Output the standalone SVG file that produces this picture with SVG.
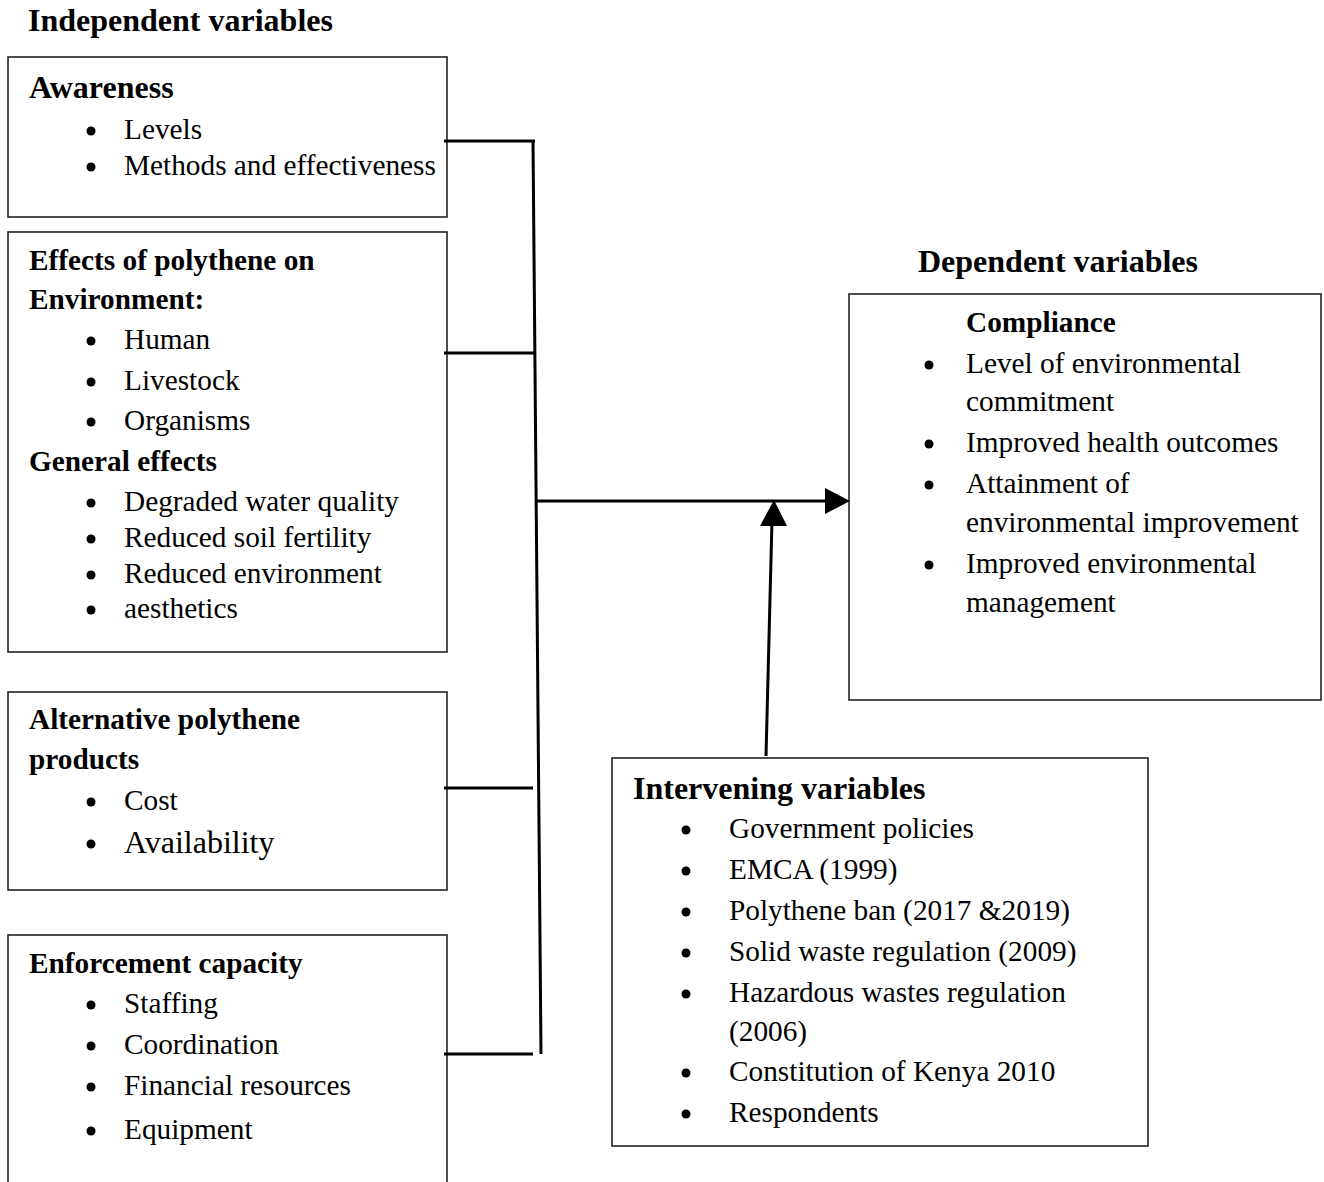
<svg xmlns="http://www.w3.org/2000/svg" width="1324" height="1182" viewBox="0 0 1324 1182">
<defs>
<style>
.box{fill:#fff;stroke:#222;stroke-width:1.6}
.t{font-family:"Liberation Serif","Times New Roman",serif;font-size:29.3px;fill:#000}
.b{font-weight:bold}
.big{font-size:32px}
.bul{fill:#000}
.con{stroke:#000;stroke-width:3;fill:none}
</style>
</defs>
<rect width="1324" height="1182" fill="#fff"/>

<text class="t b big" x="28" y="31">Independent variables</text>
<text class="t b big" x="918" y="272">Dependent variables</text>

<g id="awareness">
<rect class="box" x="8" y="57" width="439" height="160"/>
<text class="t b big" x="29" y="98">Awareness</text>
<circle class="bul" cx="91" cy="131" r="4.5"/><text class="t" x="124" y="139">Levels</text>
<circle class="bul" cx="91" cy="167" r="4.5"/><text class="t" x="124" y="175">Methods and effectiveness</text>
</g>

<g id="effects">
<rect class="box" x="8" y="232" width="439" height="420"/>
<text class="t b" x="29" y="270">Effects of polythene on</text>
<text class="t b" x="29" y="309">Environment:</text>
<circle class="bul" cx="91" cy="341" r="4.5"/><text class="t" x="124" y="349">Human</text>
<circle class="bul" cx="91" cy="382" r="4.5"/><text class="t" x="124" y="390">Livestock</text>
<circle class="bul" cx="91" cy="422" r="4.5"/><text class="t" x="124" y="430">Organisms</text>
<text class="t b" x="29" y="471">General effects</text>
<circle class="bul" cx="91" cy="503" r="4.5"/><text class="t" x="124" y="511">Degraded water quality</text>
<circle class="bul" cx="91" cy="539" r="4.5"/><text class="t" x="124" y="547">Reduced soil fertility</text>
<circle class="bul" cx="91" cy="575" r="4.5"/><text class="t" x="124" y="583">Reduced environment</text>
<circle class="bul" cx="91" cy="610" r="4.5"/><text class="t" x="124" y="618">aesthetics</text>
</g>

<g id="alternatives">
<rect class="box" x="8" y="692" width="439" height="198"/>
<text class="t b" x="29" y="729">Alternative polythene</text>
<text class="t b" x="29" y="769">products</text>
<circle class="bul" cx="91" cy="802" r="4.5"/><text class="t" x="124" y="810">Cost</text>
<circle class="bul" cx="91" cy="844" r="4.5"/><text class="t big" x="124" y="853">Availability</text>
</g>

<g id="enforcement">
<rect class="box" x="8" y="935" width="439" height="260"/>
<text class="t b" x="29" y="973">Enforcement capacity</text>
<circle class="bul" cx="91" cy="1005" r="4.5"/><text class="t" x="124" y="1013">Staffing</text>
<circle class="bul" cx="91" cy="1046" r="4.5"/><text class="t" x="124" y="1054">Coordination</text>
<circle class="bul" cx="91" cy="1087" r="4.5"/><text class="t" x="124" y="1095">Financial resources</text>
<circle class="bul" cx="91" cy="1131" r="4.5"/><text class="t" x="124" y="1139">Equipment</text>
</g>

<g id="compliance">
<rect class="box" x="849" y="294" width="472" height="406"/>
<text class="t b" x="966" y="332">Compliance</text>
<circle class="bul" cx="929" cy="365" r="4.5"/><text class="t" x="966" y="373">Level of environmental</text>
<text class="t" x="966" y="411">commitment</text>
<circle class="bul" cx="929" cy="444" r="4.5"/><text class="t" x="966" y="452">Improved health outcomes</text>
<circle class="bul" cx="929" cy="485" r="4.5"/><text class="t" x="966" y="493">Attainment of</text>
<text class="t" x="966" y="532">environmental improvement</text>
<circle class="bul" cx="929" cy="565" r="4.5"/><text class="t" x="966" y="573">Improved environmental</text>
<text class="t" x="966" y="612">management</text>
</g>

<g id="intervening">
<rect class="box" x="612" y="758" width="536" height="388"/>
<text class="t b big" x="633" y="799">Intervening variables</text>
<circle class="bul" cx="686" cy="830" r="4.5"/><text class="t" x="729" y="838">Government policies</text>
<circle class="bul" cx="686" cy="871" r="4.5"/><text class="t" x="729" y="879">EMCA (1999)</text>
<circle class="bul" cx="686" cy="912" r="4.5"/><text class="t" x="729" y="920">Polythene ban (2017 &amp;2019)</text>
<circle class="bul" cx="686" cy="953" r="4.5"/><text class="t" x="729" y="961">Solid waste regulation (2009)</text>
<circle class="bul" cx="686" cy="994" r="4.5"/><text class="t" x="729" y="1002">Hazardous wastes regulation</text>
<text class="t" x="729" y="1041">(2006)</text>
<circle class="bul" cx="686" cy="1073" r="4.5"/><text class="t" x="729" y="1081">Constitution of Kenya 2010</text>
<circle class="bul" cx="686" cy="1114" r="4.5"/><text class="t" x="729" y="1122">Respondents</text>
</g>

<g id="connectors">
<line class="con" x1="444" y1="141" x2="535" y2="141"/>
<line class="con" x1="444" y1="353" x2="535" y2="353"/>
<line class="con" x1="444" y1="788" x2="533" y2="788"/>
<line class="con" x1="444" y1="1054" x2="533" y2="1054"/>
<line class="con" x1="533" y1="140" x2="541" y2="1054"/>
<line class="con" x1="535" y1="501" x2="830" y2="501"/>
<path d="M825,488 L850,501 L825,514 Z" fill="#000"/>
<line class="con" x1="766" y1="756" x2="772" y2="520"/>
<path d="M760,526 L774,500 L787,526 Z" fill="#000"/>
</g>
</svg>
